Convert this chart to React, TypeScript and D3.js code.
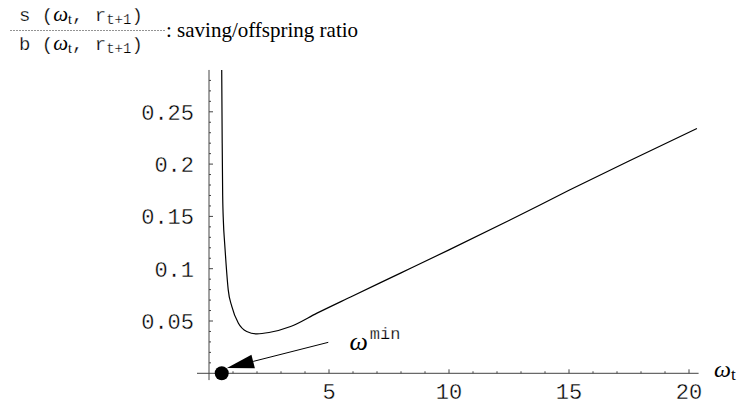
import React from "react";
import { scaleLinear, line, range, curveMonotoneX } from "d3";

// values
const omega = [0.53, 0.55, 0.57, 0.6, 0.65, 0.71, 0.8, 0.95, 1.22, 1.57, 2.0, 2.5, 3.4, 4.5, 5.9, 8, 10, 12.5, 15, 17.5, 20.33];
const ratio = [0.29, 0.22, 0.17, 0.145, 0.125, 0.105, 0.08, 0.064, 0.048, 0.04, 0.0377, 0.039, 0.0447, 0.0575, 0.073, 0.096, 0.118, 0.146, 0.175, 0.203, 0.234];
const xTicks = [5, 10, 15, 20];
const yTicks = [0.05, 0.1, 0.15, 0.2, 0.25];
const omegaMin = 0.53;

const width = 740;
const height = 405;
const mono = "'Courier New', 'Liberation Mono', monospace";
const serif = "'Times New Roman', 'Liberation Serif', serif";
// thin the mono glyphs a bit, the reference uses a light Courier
const thin = { stroke: "#fff", strokeWidth: 0.35, paintOrder: "normal" } as const;

const x = scaleLinear().domain([0, 20]).range([209, 689]);
const y = scaleLinear().domain([0, 0.25]).range([373.3, 111.8]);

const Frac = ({ lead, yPos }: { lead: string; yPos: number }) => (
  <text x={19} y={yPos} fontFamily={mono} fontSize={19} {...thin} strokeWidth={0.25}>
    {lead} (<tspan fontFamily={serif} fontStyle="italic" fontSize={21} stroke="none">ω</tspan>
    <tspan fontFamily={serif} fontSize={14} dy={3} stroke="none">t</tspan>
    <tspan dy={-3}>, r</tspan>
    <tspan fontSize={14} dy={3}>t+1</tspan>
    <tspan dy={-3}>)</tspan>
  </text>
);

const App = () => {
  const path = line<number>()
    .x((d) => x(d))
    .y((_, i) => y(ratio[i]))
    .curve(curveMonotoneX)(omega);

  const xMinor = range(1, 21).filter((v) => v % 5 !== 0);
  const yMinor = range(1, 29).map((v) => v / 100).filter((v) => Math.round(v * 100) % 5 !== 0);

  const tailX = 4.97, tailY = 0.0296;
  const tipX = 0.75, tipY = 0.005;
  const ax = x(tipX), ay = y(tipY);
  const bx = x(tailX), by = y(tailY);
  const len = Math.hypot(bx - ax, by - ay);
  const ux = (bx - ax) / len, uy = (by - ay) / len;
  const hl = 27, hw = 7;
  const head = [
    [ax, ay],
    [ax + ux * hl - uy * hw, ay + uy * hl + ux * hw],
    [ax + ux * hl + uy * hw, ay + uy * hl - ux * hw],
  ].map((p) => p.join(",")).join(" ");

  return (
    <svg width={width} height={height} style={{ position: "absolute", left: 0, top: 0, background: "#fff" }}>
      {/* title fraction */}
      <Frac lead="s" yPos={21} />
      <line x1={10} x2={166} y1={30.5} y2={30.5} stroke="#777" strokeWidth={0.8} strokeDasharray="2,1" />
      <Frac lead="b" yPos={50} />
      <text x={166} y={37} fontFamily={serif} fontSize={21}>: saving/offspring ratio</text>

      {/* axes */}
      <line x1={x(-0.5)} x2={x(20.4)} y1={y(0)} y2={y(0)} stroke="#444" />
      <line x1={x(0)} x2={x(0)} y1={y(-0.0065)} y2={y(0.29)} stroke="#444" />
      {xTicks.map((t) => (
        <g key={t}>
          <line x1={x(t)} x2={x(t)} y1={y(0)} y2={y(0) - 4} stroke="#444" />
          <text x={x(t)} y={399} textAnchor="middle" fontFamily={mono} fontSize={22} {...thin}>{t}</text>
        </g>
      ))}
      {xMinor.map((t) => (
        <line key={t} x1={x(t)} x2={x(t)} y1={y(0)} y2={y(0) - 2} stroke="#444" />
      ))}
      {yTicks.map((t) => (
        <g key={t}>
          <line x1={x(0)} x2={x(0) + 4} y1={y(t)} y2={y(t)} stroke="#444" />
          <text x={194} y={y(t) + 8} textAnchor="end" fontFamily={mono} fontSize={22} {...thin}>{String(t)}</text>
        </g>
      ))}
      {yMinor.map((t) => (
        <line key={t} x1={x(0)} x2={x(0) + 2} y1={y(t)} y2={y(t)} stroke="#444" />
      ))}
      <text x={714} y={377} fontFamily={serif} fontSize={24} fontStyle="italic">ω
        <tspan fontStyle="normal" fontSize={17} dy={3}>t</tspan>
      </text>

      {/* curve */}
      <path d={path ?? ""} fill="none" stroke="#000" strokeWidth={1.2} />

      {/* annotation */}
      <line x1={bx} y1={by} x2={ax + ux * hl} y2={ay + uy * hl} stroke="#000" strokeWidth={1} />
      <polygon points={head} fill="#000" />
      <circle cx={x(omegaMin)} cy={y(0)} r={7} fill="#000" />
      <text x={x(5.85)} y={y(0.022)} fontFamily={serif} fontStyle="italic" fontSize={26}>ω</text>
      <text x={x(6.7)} y={y(0.033)} fontFamily={mono} fontSize={17} {...thin} strokeWidth={0.25}>min</text>
    </svg>
  );
};

export default App;
